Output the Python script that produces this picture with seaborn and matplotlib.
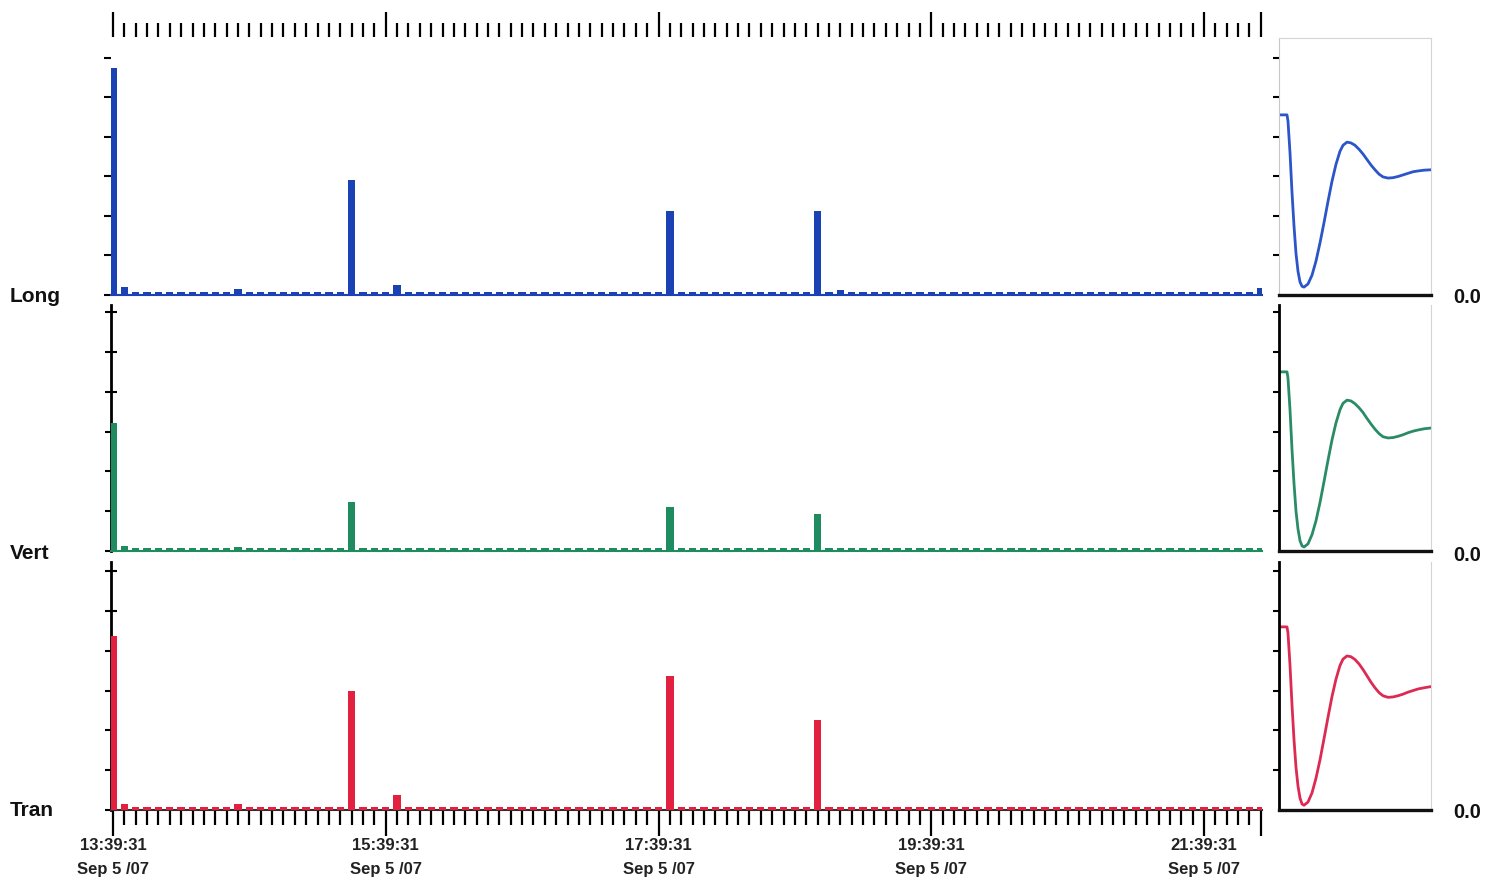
import matplotlib
matplotlib.use("Agg")
import matplotlib.pyplot as plt
import seaborn as sns
import pandas as pd

# ---------------- data ----------------
minutes = [0, 5, 10, 15, 20, 25, 30, 35, 40, 45,
           50, 55, 60, 65, 70, 75, 80, 85, 90, 95,
           100, 105, 110, 115, 120, 125, 130, 135, 140, 145,
           150, 155, 160, 165, 170, 175, 180, 185, 190, 195,
           200, 205, 210, 215, 220, 225, 230, 235, 240, 245,
           250, 255, 260, 265, 270, 275, 280, 285, 290, 295,
           300, 305, 310, 315, 320, 325, 330, 335, 340, 345,
           350, 355, 360, 365, 370, 375, 380, 385, 390, 395,
           400, 405, 410, 415, 420, 425, 430, 435, 440, 445,
           450, 455, 460, 465, 470, 475, 480, 485, 490, 495,
           500, 505]

long_vals = [5.75, 0.20, 0.08, 0.08, 0.08, 0.08, 0.08, 0.08, 0.08, 0.08,
             0.08, 0.15, 0.08, 0.08, 0.08, 0.08, 0.08, 0.08, 0.08, 0.08,
             0.08, 2.91, 0.08, 0.08, 0.08, 0.25, 0.08, 0.08, 0.08, 0.08,
             0.08, 0.08, 0.08, 0.08, 0.08, 0.08, 0.08, 0.08, 0.08, 0.08,
             0.08, 0.08, 0.08, 0.08, 0.08, 0.08, 0.08, 0.08, 0.08, 2.13,
             0.08, 0.08, 0.08, 0.08, 0.08, 0.08, 0.08, 0.08, 0.08, 0.08,
             0.08, 0.08, 2.13, 0.08, 0.12, 0.08, 0.08, 0.08, 0.08, 0.08,
             0.08, 0.08, 0.08, 0.08, 0.08, 0.08, 0.08, 0.08, 0.08, 0.08,
             0.08, 0.08, 0.08, 0.08, 0.08, 0.08, 0.08, 0.08, 0.08, 0.08,
             0.08, 0.08, 0.08, 0.08, 0.08, 0.08, 0.08, 0.08, 0.08, 0.08,
             0.08, 0.18]

vert_vals = [3.22, 0.12, 0.07, 0.07, 0.07, 0.07, 0.07, 0.07, 0.07, 0.07,
             0.07, 0.10, 0.07, 0.07, 0.07, 0.07, 0.07, 0.07, 0.07, 0.07,
             0.07, 1.23, 0.07, 0.07, 0.07, 0.07, 0.07, 0.07, 0.07, 0.07,
             0.07, 0.07, 0.07, 0.07, 0.07, 0.07, 0.07, 0.07, 0.07, 0.07,
             0.07, 0.07, 0.07, 0.07, 0.07, 0.07, 0.07, 0.07, 0.07, 1.10,
             0.07, 0.07, 0.07, 0.07, 0.07, 0.07, 0.07, 0.07, 0.07, 0.07,
             0.07, 0.07, 0.93, 0.07, 0.07, 0.07, 0.07, 0.07, 0.07, 0.07,
             0.07, 0.07, 0.07, 0.07, 0.07, 0.07, 0.07, 0.07, 0.07, 0.07,
             0.07, 0.07, 0.07, 0.07, 0.07, 0.07, 0.07, 0.07, 0.07, 0.07,
             0.07, 0.07, 0.07, 0.07, 0.07, 0.07, 0.07, 0.07, 0.07, 0.07,
             0.07, 0.07]

tran_vals = [4.37, 0.15, 0.08, 0.08, 0.08, 0.08, 0.08, 0.08, 0.08, 0.08,
             0.08, 0.15, 0.08, 0.08, 0.08, 0.08, 0.08, 0.08, 0.08, 0.08,
             0.08, 2.99, 0.08, 0.08, 0.08, 0.38, 0.08, 0.08, 0.08, 0.08,
             0.08, 0.08, 0.08, 0.08, 0.08, 0.08, 0.08, 0.08, 0.08, 0.08,
             0.08, 0.08, 0.08, 0.08, 0.08, 0.08, 0.08, 0.08, 0.08, 3.37,
             0.08, 0.08, 0.08, 0.08, 0.08, 0.08, 0.08, 0.08, 0.08, 0.08,
             0.08, 0.08, 2.26, 0.08, 0.08, 0.08, 0.08, 0.08, 0.08, 0.08,
             0.08, 0.08, 0.08, 0.08, 0.08, 0.08, 0.08, 0.08, 0.08, 0.08,
             0.08, 0.08, 0.08, 0.08, 0.08, 0.08, 0.08, 0.08, 0.08, 0.08,
             0.08, 0.08, 0.08, 0.08, 0.08, 0.08, 0.08, 0.08, 0.08, 0.08,
             0.08, 0.08]

series_names = ["Long", "Vert", "Tran"]

major_minutes = [0, 120, 240, 360, 480, 505]
major_labels = ["13:39:31\nSep 5 /07", "15:39:31\nSep 5 /07",
                "17:39:31\nSep 5 /07", "19:39:31\nSep 5 /07",
                "21:39:31\nSep 5 /07", ""]

# waveform panels (right side)
wave_x = [1, 8, 9, 11, 13, 15, 17, 19, 21, 23,
          25, 29, 33, 37, 41, 45, 49, 53, 57, 61,
          64, 68, 72, 76, 80, 84, 88, 92, 96, 100,
          104, 109, 114, 119, 124, 129, 134, 139, 145, 152]
long_wave = [4.56, 4.56, 4.40, 3.60, 2.60, 1.75, 1.05, 0.60, 0.33, 0.22,
             0.20, 0.28, 0.50, 0.86, 1.32, 1.83, 2.37, 2.88, 3.31, 3.64,
             3.79, 3.87, 3.85, 3.79, 3.69, 3.57, 3.43, 3.29, 3.17, 3.06,
             2.99, 2.96, 2.97, 3.00, 3.04, 3.08, 3.12, 3.14, 3.16, 3.17]
vert_wave = [4.50, 4.50, 4.34, 3.55, 2.55, 1.70, 1.00, 0.55, 0.26, 0.13,
             0.10, 0.18, 0.41, 0.76, 1.22, 1.74, 2.28, 2.79, 3.22, 3.55,
             3.71, 3.79, 3.77, 3.70, 3.60, 3.48, 3.33, 3.19, 3.06, 2.95,
             2.87, 2.84, 2.85, 2.88, 2.92, 2.97, 3.01, 3.04, 3.07, 3.09]
tran_wave = [4.60, 4.60, 4.44, 3.64, 2.64, 1.77, 1.07, 0.60, 0.30, 0.15,
             0.12, 0.20, 0.43, 0.80, 1.26, 1.79, 2.33, 2.85, 3.29, 3.63,
             3.79, 3.87, 3.85, 3.78, 3.67, 3.53, 3.37, 3.21, 3.07, 2.95,
             2.87, 2.83, 2.84, 2.87, 2.91, 2.96, 3.00, 3.04, 3.07, 3.10]

bar_colors = ["#1a42b4", "#1f8c5f", "#e2203f"]
line_colors = ["#2b55c8", "#2a8c66", "#dc2a52"]

# ---------------- figure ----------------
sns.set_theme(style="white")
plt.rcParams["font.family"] = ["Liberation Sans", "DejaVu Sans"]

W, H = 1486, 880
fig = plt.figure(figsize=(W / 100, H / 100), dpi=100)


def px_axes(left, top, right, bottom):
    return fig.add_axes([left / W, 1 - bottom / H, (right - left) / W, (bottom - top) / H])


df = pd.DataFrame({"minute": minutes, "Long": long_vals, "Vert": vert_vals, "Tran": tran_vals})
waves = [long_wave, vert_wave, tran_wave]

rows = [(37, 295, 6.53), (305, 551, 6.18), (562, 810, 6.23)]
label_baselines = [302, 559, 816]
zero_baselines = [303, 561, 818]

for i, name in enumerate(series_names):
    top, bottom, ymax = rows[i]
    ax = px_axes(110.7, top, 1262, bottom)
    sns.barplot(data=df, x="minute", y=name, native_scale=True, width=0.65,
                color=bar_colors[i], saturation=1, errorbar=None, orient="x",
                ax=ax, zorder=3, linewidth=0)
    ax.set_xlim(-1.0, 505.5)
    ax.set_ylim(0, ymax)
    ax.set_xlabel("")
    ax.set_ylabel("")
    ax.set_facecolor("none")
    ax.grid(False)
    ax.spines["top"].set_visible(False)
    ax.spines["right"].set_visible(False)
    ax.set_yticks([0, 1, 2, 3, 4, 5, 6])
    if i == 0:
        ax.spines["left"].set_visible(False)
        ax.spines["bottom"].set_color(bar_colors[i])
        ax.spines["bottom"].set_linewidth(1.5)
        ax.tick_params(axis="y", which="both", left=True, direction="out",
                       length=5, width=1.5, color="black", labelleft=False)
        ax.xaxis.tick_top()
        ax.set_xticks(major_minutes)
        ax.set_xticks(minutes, minor=True)
        ax.tick_params(axis="x", which="major", top=True, bottom=False, direction="out",
                       length=18, width=1.6, color="black", labeltop=False, labelbottom=False)
        ax.tick_params(axis="x", which="minor", top=True, bottom=False, direction="out",
                       length=10, width=1.6, color="black")
    else:
        ax.spines["left"].set_color("black")
        ax.spines["left"].set_linewidth(2)
        ax.tick_params(axis="y", which="both", left=True, direction="inout",
                       length=9, width=1.5, color="black", labelleft=False)
        if i == 1:
            ax.spines["bottom"].set_color(bar_colors[i])
            ax.spines["bottom"].set_linewidth(1.5)
            ax.tick_params(axis="x", which="both", bottom=False, top=False,
                           labelbottom=False, labeltop=False)
        else:
            ax.spines["bottom"].set_color("#3a2a2a")
            ax.spines["bottom"].set_linewidth(1.5)
            ax.set_xticks(major_minutes)
            ax.set_xticklabels(major_labels)
            ax.set_xticks(minutes, minor=True)
            ax.tick_params(axis="x", which="major", bottom=True, direction="out",
                           length=19, width=1.6, color="black", pad=1.5,
                           labelsize=12, labelcolor="#222222")
            ax.tick_params(axis="x", which="minor", bottom=True, direction="out",
                           length=11, width=1.6, color="black")
            for lab in ax.get_xticklabels():
                lab.set_fontweight("bold")
                lab.set_linespacing(1.75)

    # right waveform panel
    rtop = 38 if i == 0 else top
    rax = px_axes(1279, rtop, 1431, bottom)
    sns.lineplot(x=wave_x, y=waves[i], ax=rax, color=line_colors[i], linewidth=2)
    rax.set_xlim(0, 152)
    rax.set_ylim(0, ymax if i else (bottom - rtop) / 39.5)
    rax.set_xlabel("")
    rax.set_ylabel("")
    rax.grid(False)
    rax.spines["right"].set_color("#d4d4d4")
    rax.spines["right"].set_linewidth(0.8)
    if i == 0:
        rax.spines["top"].set_color("#d4d4d4")
        rax.spines["top"].set_linewidth(0.8)
        rax.spines["left"].set_color("#c8c8c8")
        rax.spines["left"].set_linewidth(0.8)
    else:
        rax.spines["top"].set_visible(False)
        rax.spines["left"].set_color("black")
        rax.spines["left"].set_linewidth(2)
    rax.spines["bottom"].set_color("#111111")
    rax.spines["bottom"].set_linewidth(2.4)
    rax.set_yticks([1, 2, 3, 4, 5, 6])
    rax.tick_params(axis="y", left=True, direction="out", length=4.5, width=1.5,
                    color="black", labelleft=False)
    rax.tick_params(axis="x", bottom=False, labelbottom=False)

    fig.text(10 / W, 1 - label_baselines[i] / H, name, fontsize=15, fontweight="bold",
             ha="left", va="baseline", color="#111111")
    fig.text(1453 / W, 1 - zero_baselines[i] / H, "0.0", fontsize=14.5, fontweight="bold",
             ha="left", va="baseline", color="#111111")

fig.savefig("out.png", dpi=100)
